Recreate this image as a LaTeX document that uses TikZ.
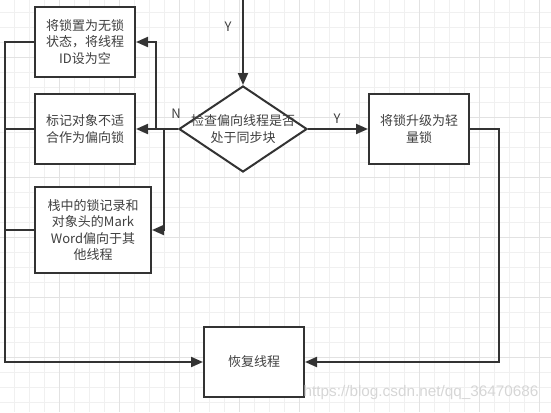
\documentclass[tikz,border=0pt]{standalone}
\usepackage{fontspec}
\setmainfont{Noto Sans CJK SC}
\newfontfamily\wmfont{Liberation Sans}
\usetikzlibrary{shapes.geometric,arrows.meta}
\tikzset{>={Triangle[length=12pt,width=10pt]}}
\definecolor{cln}{HTML}{333333}
\definecolor{clt}{HTML}{404040}
\definecolor{clgm}{HTML}{F0F0F0}
\definecolor{clgM}{HTML}{E2E2E2}
\definecolor{clw}{HTML}{D6D6D6}

\begin{document}
\begin{tikzpicture}[x=1pt, y=-1pt, font=\fontsize{13}{16.5}\selectfont,
    box/.style={draw=cln, line width=2pt, fill=white, text=clt, align=center,
        minimum width=100pt, minimum height=70pt, inner sep=0pt},
    decision/.style={draw=cln, line width=2pt, fill=white, diamond,
        minimum width=128pt, minimum height=86pt, inner sep=0pt},
    flow/.style={draw=cln, line width=2pt},
    tag/.style={text=clt}]
    \useasboundingbox (0,0) rectangle (551,412);
    % grid
    \foreach \k in {1,...,36}
        \draw[clgm, line width=1pt](15*\k-0.3, 0)--(15*\k-0.3, 412);
    \foreach \k in {0,...,26}
        \draw[clgm, line width=1pt](0, 12.3+15*\k)--(551, 12.3+15*\k);
    \foreach \k in {0,...,8}
        \draw[clgM, line width=1pt](59.7+60*\k, 0)--(59.7+60*\k, 412);
    \foreach \k in {0,...,5}
        \draw[clgM, line width=1pt](0, 57.3+60*\k)--(551, 57.3+60*\k);

    % nodes
    \node[box](lockfree) at (85, 42){将锁置为无锁\\状态，将线程\\ID设为空};
    \node[box](notbias) at (85, 129){标记对象不适\\合作为偏向锁};
    \node[box, minimum width=116pt, minimum height=86pt](stackrec) at (93, 230)
        {栈中的锁记录和\\对象头的Mark\\Word偏向于其\\他线程};
    \node[decision, label={[tag, align=center]center:检查偏向线程是否\\处于同步块}]
        (check) at (243, 129){};
    \node[box](upgrade) at (419, 129){将锁升级为轻\\量锁};
    \node[box](resume) at (254, 362){恢复线程};

    \coordinate (entry) at (243, 0);
    \coordinate (splitup) at (156, 129);
    \coordinate (splitdn) at (164, 129);
    \coordinate (trunkl) at (5, 362);
    \coordinate (trunkr) at (498.7, 362);

    % connectors
    \draw[flow, ->](entry)--(check.north);
    \node[tag] at (228, 27){Y};
    \draw[flow, ->](check.east)--(upgrade.west);
    \node[tag] at (337, 119){Y};
    \draw[flow, ->](check.west)--(notbias.east);
    \node[tag] at (176, 114){N};
    \draw[flow, ->](splitup)|-(lockfree.east);
    \draw[flow, ->](splitdn)|-(stackrec.east);
    \draw[flow, ->](lockfree.west)-|(trunkl)--(resume.west);
    \draw[flow](notbias.west)--(notbias.west -| trunkl);
    \draw[flow](stackrec.west)--(stackrec.west -| trunkl);
    \draw[flow, ->](upgrade.east)-|(trunkr)--(resume.east);

    \node[text=clw, font=\wmfont\fontsize{15.3}{17}\selectfont] (mark) at (421, 393)
        {https://blog.csdn.net/qq\_36470686};
\end{tikzpicture}
\end{document}
